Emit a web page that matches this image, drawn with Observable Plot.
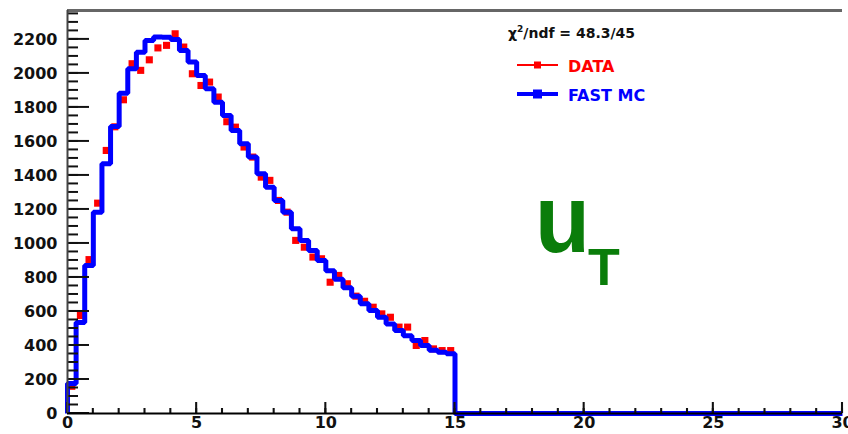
<!DOCTYPE html>
<html><head><meta charset="utf-8">
<script src="https://cdn.jsdelivr.net/npm/d3@7"></script>
<script src="https://cdn.jsdelivr.net/npm/@observablehq/plot@0.6"></script>
<style>
html,body{margin:0;padding:0;background:#fff;overflow:hidden;}
#wrap{position:relative;width:848px;height:434px;}
#wrap > svg{position:absolute;left:0;top:0;}
</style></head><body><div id="wrap"></div>
<script>
// ---- data ----
const binWidth = 1/3;          // 45 bins from 0 to 15
const histEnd = 15;
const xMax = 30;
const yMax = 2370;
const fastMC = [176, 535, 870, 1184, 1469, 1688, 1884, 2027, 2125, 2194,
                2214, 2212, 2200, 2135, 2067, 1988, 1910, 1831, 1753, 1665,
                1586, 1508, 1410, 1331, 1253, 1184, 1086, 1018, 959, 900,
                840, 790, 740, 690, 645, 605, 566, 527, 488, 457,
                429, 400, 372, 360, 352];
const dataPts = [160, 576, 905, 1237, 1547, 1686, 1845, 2057, 2018, 2080,
                 2150, 2165, 2233, 2155, 1998, 1929, 1949, 1861, 1716, 1684,
                 1567, 1508, 1390, 1371, 1253, 1184, 1018, 978, 920, 910,
                 772, 812, 763, 690, 660, 625, 586, 566, 508, 508,
                 400, 429, 380, 370, 370];
const xTickLabels = [0, 5, 10, 15, 20, 25, 30];
const xMinorTicks = d3.range(0, 31, 1);
const yTickLabels = [0, 200, 400, 600, 800, 1000, 1200, 1400, 1600, 1800, 2000, 2200];
const yMinorTicks = d3.range(0, 2351, 50);
const chiText = "/ndf = 48.3/45";
const legendItems = [{label: "DATA", color: "#ff0000"}, {label: "FAST MC", color: "#0000ff"}];
const varName = "u", varSub = "T";

// ---- derived tables ----
const mcLine = [{x: 0, y: 0}, ...fastMC.map((v, i) => ({x: i * binWidth, y: v})),
  {x: histEnd, y: fastMC[fastMC.length - 1]}, {x: histEnd, y: 0}, {x: xMax, y: 0}];
const dataDots = dataPts.map((v, i) => ({x: (i + 0.5) * binWidth, y: v}));

const W = 848, H = 434, mL = 67, mR = 6, mT = 10, mB = 21;
const plotW = W - mL - mR, plotH = H - mT - mB;
const pxX = xMax / plotW, pxY = yMax / plotH;

const chart = Plot.plot({
  width: W, height: H,
  marginLeft: mL, marginRight: mR, marginTop: mT, marginBottom: mB,
  style: {fontFamily: "DejaVu Sans", fontWeight: "bold", fontSize: "16px", color: "#111"},
  x: {domain: [0, xMax], label: null, ticks: xTickLabels, tickSize: 0, tickPadding: 3, tickFormat: d => String(d)},
  y: {domain: [0, yMax], label: null, ticks: yTickLabels, tickSize: 0, tickPadding: 10, tickFormat: d => String(d)},
  marks: [
    Plot.ruleY([yMax], {stroke: "#666", strokeWidth: 3}),
    Plot.dot(dataDots, {x: "x", y: "y", symbol: "square", r: 4, fill: "#ff0000", stroke: "none"}),
    Plot.line(mcLine, {x: "x", y: "y", curve: "step-after", stroke: "#0000ff", strokeWidth: 5, strokeLinejoin: "miter", strokeLinecap: "butt"}),
    Plot.rectX(yMinorTicks, {y1: d => d - 3 * pxY * 0.33, y2: d => d + 3 * pxY * 0.33, x1: 0, x2: 11 * pxX, fill: "#111"}),
    Plot.rectX(yTickLabels, {y1: d => d - 3 * pxY * 0.33, y2: d => d + 3 * pxY * 0.33, x1: 0, x2: 22 * pxX, fill: "#111"}),
    Plot.rectY(xMinorTicks, {x1: d => d - 0.04, x2: d => d + 0.04, y1: 0, y2: 5 * pxY, fill: "#111"}),
    Plot.rectY(xTickLabels, {x1: d => d - 0.04, x2: d => d + 0.04, y1: 0, y2: 11 * pxY, fill: "#111"}),
    Plot.ruleX([0], {stroke: "#444", strokeWidth: 2}),
    Plot.ruleY([0], {stroke: "#000", strokeWidth: 2})
  ]
});
document.getElementById("wrap").appendChild(chart);

// ---- overlay: legend and label ----
const ov = d3.select("#wrap").append("svg").attr("width", W).attr("height", H);
const chi = ov.append("text").attr("x", 508).attr("y", 38)
  .attr("font-family", "DejaVu Sans").attr("font-weight", "bold").attr("font-size", 14).attr("fill", "#111");
chi.append("tspan").text("χ");
chi.append("tspan").attr("dy", -6).attr("font-size", 9).text("2");
chi.append("tspan").attr("dy", 6).text(chiText);

legendItems.forEach((d, i) => {
  const yy = [65, 94][i];
  ov.append("line").attr("x1", 517).attr("x2", 558).attr("y1", yy).attr("y2", yy)
    .attr("stroke", d.color).attr("stroke-width", i === 0 ? 2 : 4);
  const s = i === 0 ? 7 : 9;
  ov.append("rect").attr("x", 537.5 - s / 2).attr("y", yy - s / 2).attr("width", s).attr("height", s).attr("fill", d.color);
  ov.append("text").attr("x", 568).attr("y", yy + 7).attr("font-family", "DejaVu Sans").attr("font-weight", "bold")
    .attr("font-size", 16).attr("fill", d.color).text(d.label);
});

ov.append("text").attr("transform", "translate(535,252) scale(1,1.07)").attr("font-family", "Liberation Sans").attr("font-weight", "bold")
  .attr("font-size", 90).attr("fill", "#0a7d0a").text(varName);
ov.append("text").attr("x", 588).attr("y", 285).attr("font-family", "Liberation Sans").attr("font-weight", "bold")
  .attr("font-size", 52).attr("fill", "#0a7d0a").text(varSub);
</script>
</body></html>
